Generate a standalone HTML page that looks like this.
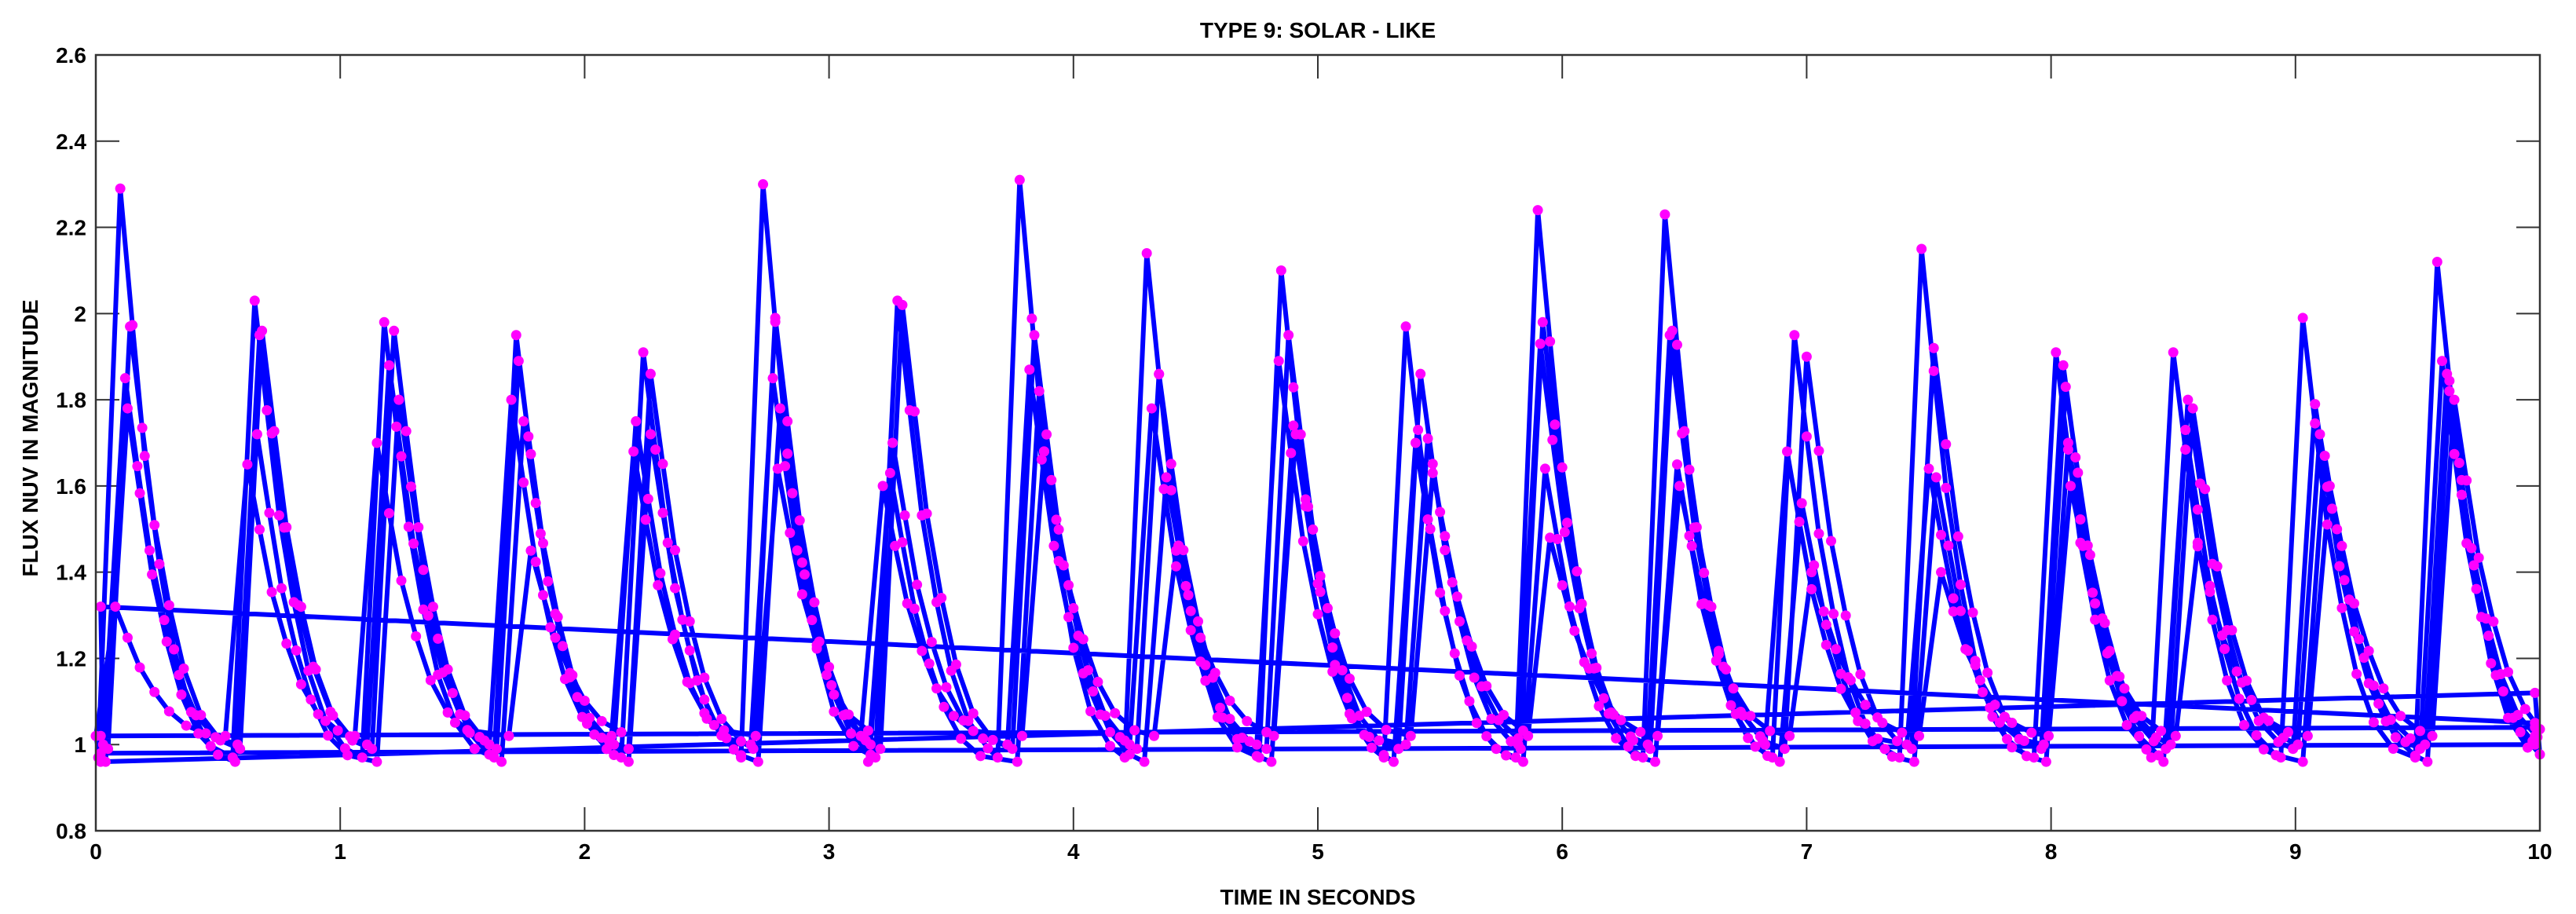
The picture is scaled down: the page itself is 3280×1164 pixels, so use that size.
<!DOCTYPE html>
<html><head><meta charset="utf-8"><style>
html,body{margin:0;padding:0;background:#fff;}
svg{display:block;font-family:"Liberation Sans",sans-serif;}
</style></head><body>
<svg id="chart" width="3280" height="1164" viewBox="0 0 3280 1164" xmlns="http://www.w3.org/2000/svg">
<rect x="0" y="0" width="3280" height="1164" fill="#fff"/>
<text x="1678" y="48" font-size="28" font-weight="bold" text-anchor="middle" fill="#000">TYPE 9: SOLAR - LIKE</text>
<text x="1678" y="1152" font-size="28" font-weight="bold" text-anchor="middle" fill="#000">TIME IN SECONDS</text>
<text x="0" y="0" font-size="28" font-weight="bold" text-anchor="middle" fill="#000" transform="translate(48,558) rotate(-90)">FLUX NUV IN MAGNITUDE</text>
<g id="grid"></g>
<g id="series"></g>
<rect x="122" y="70" width="3112" height="988" fill="none" stroke="#333" stroke-width="2.5"/>
</svg>
<script>
const xTicks = [0,1,2,3,4,5,6,7,8,9,10];
const yTicks = [0.8,1,1.2,1.4,1.6,1.8,2,2.2,2.4,2.6];
const yTickLabels = ["0.8","1","1.2","1.4","1.6","1.8","2","2.2","2.4","2.6"];
const decayFractions = [0.76,0.53,0.34,0.19,0.08,0.02];
const decayOffsets = [0.05,0.1,0.16,0.22,0.29,0.37];
const T0 = [0.10,0.65,1.18,1.72,2.24,2.73,3.28,3.78,4.30,4.85,5.36,5.90,6.42,6.95,7.47,8.02,8.50,9.03,9.58];
const T1 = [0.14,0.68,1.22,1.73,2.27,2.78,3.30,3.84,4.35,4.88,5.42,5.92,6.45,7.00,7.52,8.05,8.56,9.08,9.60];
const T2 = [0.12,0.67,1.20,1.70,2.21,2.77,3.26,3.82,4.32,4.84,5.45,5.91,6.44,6.92,7.50,8.06,8.58,9.10,9.62];
const T3 = [0.13,0.66,1.24,1.75,2.27,2.80,3.25,3.86,4.38,4.90,5.40,5.93,6.47,6.98,7.53,8.07,8.55,9.12,9.63];
const T4 = [0.08,0.62,1.15,1.78,2.20,2.79,3.22,3.88,4.42,4.91,5.47,5.95,6.48,7.02,7.55,8.08,8.60,9.14,9.65];
const P0 = [2.29,2.03,1.98,1.95,1.91,2.30,2.03,2.31,2.14,2.10,1.97,2.24,2.23,1.95,2.15,1.91,1.91,1.99,2.12];
const P1 = [1.97,1.96,1.96,1.89,1.86,1.99,2.02,1.95,1.86,1.95,1.86,1.98,1.96,1.90,1.92,1.88,1.80,1.79,1.89];
const P2 = [1.85,1.95,1.88,1.80,1.75,1.85,1.70,1.87,1.78,1.89,1.71,1.93,1.95,1.68,1.64,1.83,1.78,1.72,1.86];
const P3 = [1.78,1.72,1.80,1.75,1.72,1.78,1.63,1.82,1.62,1.74,1.70,1.64,1.65,1.56,1.62,1.70,1.73,1.67,1.82];
const P4 = [1.32,1.65,1.70,1.45,1.68,1.64,1.60,1.68,1.45,1.72,1.63,1.48,1.60,1.40,1.40,1.60,1.46,1.60,1.80];
const baseLevels = [0.97,0.99,1.00,0.96,1.02];
const startValues = [0.97,0.98,1.32,1.02,0.96];
const endValues = [1.00,1.05,1.04,1.12,1.02];
const seriesTimes = [T0,T1,T2,T3,T4];
const seriesPeaks = [P0,P1,P2,P3,P4];

const X0=122, X1=3234, Y0=1058, Y1=70;
function xs(t){return X0+(t-0)/(10-0)*(X1-X0);}
function ys(v){return Y0-(v-0.8)/(2.6-0.8)*(Y0-Y1);}
const NS="http://www.w3.org/2000/svg";
const grid=document.getElementById('grid');
xTicks.forEach((t,i)=>{
  const l=document.createElementNS(NS,'line');
  l.setAttribute('x1',xs(t));l.setAttribute('x2',xs(t));
  l.setAttribute('y1',Y0);l.setAttribute('y2',Y0-30);
  l.setAttribute('stroke','#333');l.setAttribute('stroke-width','2');
  
  
  grid.appendChild(l);
  const l2=document.createElementNS(NS,'line');
  l2.setAttribute('x1',xs(t));l2.setAttribute('x2',xs(t));
  l2.setAttribute('y1',Y1);l2.setAttribute('y2',Y1+30);
  l2.setAttribute('stroke','#333');l2.setAttribute('stroke-width','2');
  
  
  grid.appendChild(l2);
  const tx=document.createElementNS(NS,'text');
  tx.setAttribute('x',xs(t));tx.setAttribute('y',1094);
  tx.setAttribute('font-size','28');tx.setAttribute('font-weight','bold');
  tx.setAttribute('text-anchor','middle');
  tx.textContent=String(t);
  
  
  grid.appendChild(tx);
});
yTicks.forEach((v,i)=>{
  const l=document.createElementNS(NS,'line');
  l.setAttribute('x1',X0);l.setAttribute('x2',X0+30);
  l.setAttribute('y1',ys(v));l.setAttribute('y2',ys(v));
  l.setAttribute('stroke','#333');l.setAttribute('stroke-width','2');
  
  
  grid.appendChild(l);
  const l2=document.createElementNS(NS,'line');
  l2.setAttribute('x1',X1-30);l2.setAttribute('x2',X1);
  l2.setAttribute('y1',ys(v));l2.setAttribute('y2',ys(v));
  l2.setAttribute('stroke','#333');l2.setAttribute('stroke-width','2');
  
  
  grid.appendChild(l2);
  const tx=document.createElementNS(NS,'text');
  tx.setAttribute('x',110);tx.setAttribute('y',ys(v)+10);
  tx.setAttribute('font-size','28');tx.setAttribute('font-weight','bold');
  tx.setAttribute('text-anchor','end');
  tx.textContent=yTickLabels[i];
  
  
  grid.appendChild(tx);
});

const pts=[];
for(let s=0;s<seriesTimes.length;s++){
  const T=seriesTimes[s],P=seriesPeaks[s],b=baseLevels[s];
  pts.push([0.02,startValues[s]]);
  for(let i=0;i<T.length;i++){
    pts.push([T[i]-0.09,b]);
    pts.push([T[i],P[i]]);
    for(let k=0;k<decayFractions.length;k++){
      pts.push([T[i]+decayOffsets[k], b+(P[i]-b)*decayFractions[k]]);
    }
  }
  pts.push([9.98,endValues[s]]);
}
const g=document.getElementById('series');
const pl=document.createElementNS(NS,'polyline');
pl.setAttribute('points',pts.map(p=>xs(Math.min(10,Math.max(0,p[0])))+','+ys(p[1])).join(' '));
pl.setAttribute('fill','none');pl.setAttribute('stroke','#0000ff');
pl.setAttribute('stroke-width','6');pl.setAttribute('stroke-linejoin','round');


g.appendChild(pl);
pts.forEach(p=>{
  const c=document.createElementNS(NS,'circle');
  c.setAttribute('cx',xs(Math.min(10,Math.max(0,p[0]))));c.setAttribute('cy',ys(p[1]));
  c.setAttribute('r','6.5');c.setAttribute('fill','#ff00ff');
  
  
  g.appendChild(c);
});
</script>
</body></html>
